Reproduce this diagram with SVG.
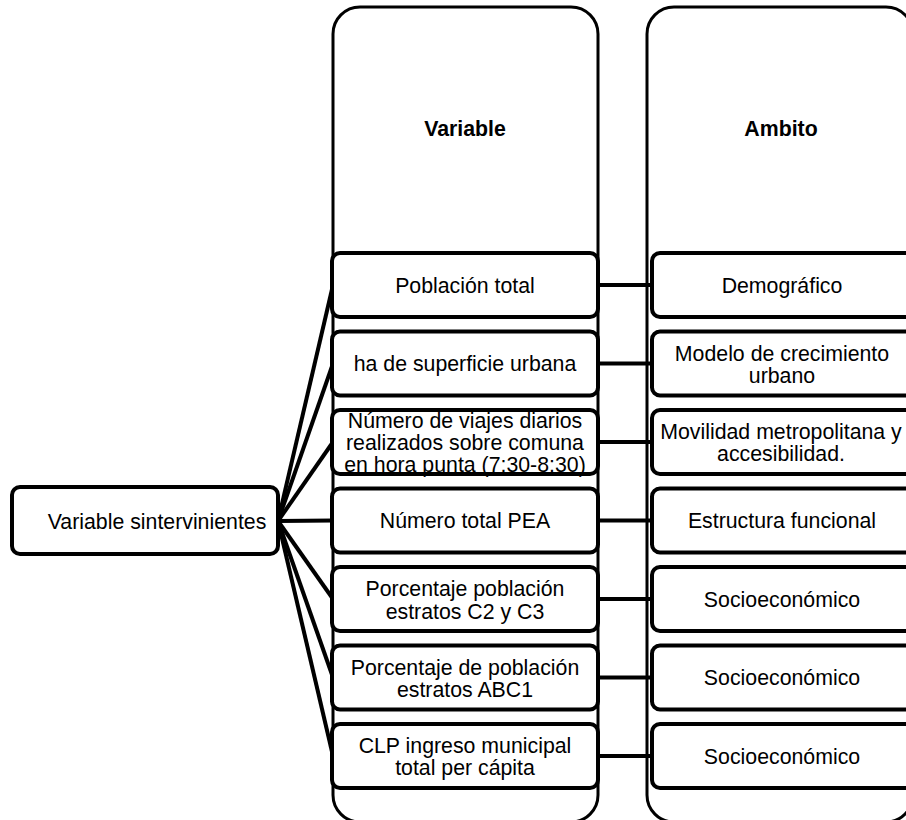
<svg xmlns="http://www.w3.org/2000/svg" width="906" height="820" viewBox="0 0 906 820">
<style>
.col{fill:#fff;stroke:#000;stroke-width:3}
.box{fill:#fff;stroke:#000;stroke-width:4}
.t{font-family:"Liberation Sans",Arial,sans-serif;font-size:21.3px;fill:#000;text-anchor:middle}
.h{font-weight:bold}
.c{stroke:#000;stroke-width:4;fill:none}
</style>
<rect width="906" height="820" fill="#fff"/>
<g id="col-variable">
<rect class="col" x="333" y="7" width="265" height="815" rx="27"/>
<text class="t h" x="465" y="136">Variable</text>
</g>
<g id="col-ambito">
<rect class="col" x="647" y="7" width="266" height="815" rx="27"/>
<text class="t h" x="781" y="136">Ambito</text>
</g>
<g id="connectors">
<line class="c" x1="278" y1="521" x2="333" y2="285"/>
<line class="c" x1="278" y1="521" x2="333" y2="363.5"/>
<line class="c" x1="278" y1="521" x2="333" y2="442"/>
<line class="c" x1="278" y1="521" x2="333" y2="520.5"/>
<line class="c" x1="278" y1="521" x2="333" y2="599"/>
<line class="c" x1="278" y1="521" x2="333" y2="677.5"/>
<line class="c" x1="278" y1="521" x2="333" y2="756"/>
<line class="c" x1="598" y1="285" x2="652" y2="285"/>
<line class="c" x1="598" y1="363.5" x2="652" y2="363.5"/>
<line class="c" x1="598" y1="442" x2="652" y2="442"/>
<line class="c" x1="598" y1="520.5" x2="652" y2="520.5"/>
<line class="c" x1="598" y1="599" x2="652" y2="599"/>
<line class="c" x1="598" y1="677.5" x2="652" y2="677.5"/>
<line class="c" x1="598" y1="756" x2="652" y2="756"/>
</g>
<g id="root">
<rect class="box" x="12" y="487" width="266" height="67" rx="8"/>
<text class="t" x="157" y="528.5">Variable sintervinientes</text>
</g>
<g id="v1">
<rect class="box" x="332" y="253" width="266" height="64" rx="8"/>
<text class="t" x="465" y="292.5">Población total</text>
</g>
<g id="v2">
<rect class="box" x="332" y="331.5" width="266" height="64" rx="8"/>
<text class="t" x="465" y="371">ha de superficie urbana</text>
</g>
<g id="v3">
<rect class="box" x="332" y="410" width="266" height="64" rx="8"/>
<text class="t" x="465" y="427.5">Número de viajes diarios</text>
<text class="t" x="465" y="449.5">realizados sobre comuna</text>
<text class="t" x="465" y="471.5">en hora punta (7:30-8:30)</text>
</g>
<g id="v4">
<rect class="box" x="332" y="488.5" width="266" height="64" rx="8"/>
<text class="t" x="465" y="528">Número total PEA</text>
</g>
<g id="v5">
<rect class="box" x="332" y="567" width="266" height="64" rx="8"/>
<text class="t" x="465" y="595.5">Porcentaje población</text>
<text class="t" x="465" y="618.5">estratos C2 y C3</text>
</g>
<g id="v6">
<rect class="box" x="332" y="645.5" width="266" height="64" rx="8"/>
<text class="t" x="465" y="675">Porcentaje de población</text>
<text class="t" x="465" y="697">estratos ABC1</text>
</g>
<g id="v7">
<rect class="box" x="332" y="724" width="266" height="64" rx="8"/>
<text class="t" x="465" y="752.5">CLP ingreso municipal</text>
<text class="t" x="465" y="774.5">total per cápita</text>
</g>
<g id="a1">
<rect class="box" x="652" y="253" width="262" height="64" rx="8"/>
<text class="t" x="782" y="292.5">Demográfico</text>
</g>
<g id="a2">
<rect class="box" x="652" y="331.5" width="262" height="64" rx="8"/>
<text class="t" x="782" y="360.5">Modelo de crecimiento</text>
<text class="t" x="782" y="382.5">urbano</text>
</g>
<g id="a3">
<rect class="box" x="652" y="410" width="262" height="64" rx="8"/>
<text class="t" x="781" y="439">Movilidad metropolitana y</text>
<text class="t" x="781" y="461">accesibilidad.</text>
</g>
<g id="a4">
<rect class="box" x="652" y="488.5" width="262" height="64" rx="8"/>
<text class="t" x="782" y="528">Estructura funcional</text>
</g>
<g id="a5">
<rect class="box" x="652" y="567" width="262" height="64" rx="8"/>
<text class="t" x="782" y="606.5">Socioeconómico</text>
</g>
<g id="a6">
<rect class="box" x="652" y="645.5" width="262" height="64" rx="8"/>
<text class="t" x="782" y="685">Socioeconómico</text>
</g>
<g id="a7">
<rect class="box" x="652" y="724" width="262" height="64" rx="8"/>
<text class="t" x="782" y="763.5">Socioeconómico</text>
</g>
</svg>
